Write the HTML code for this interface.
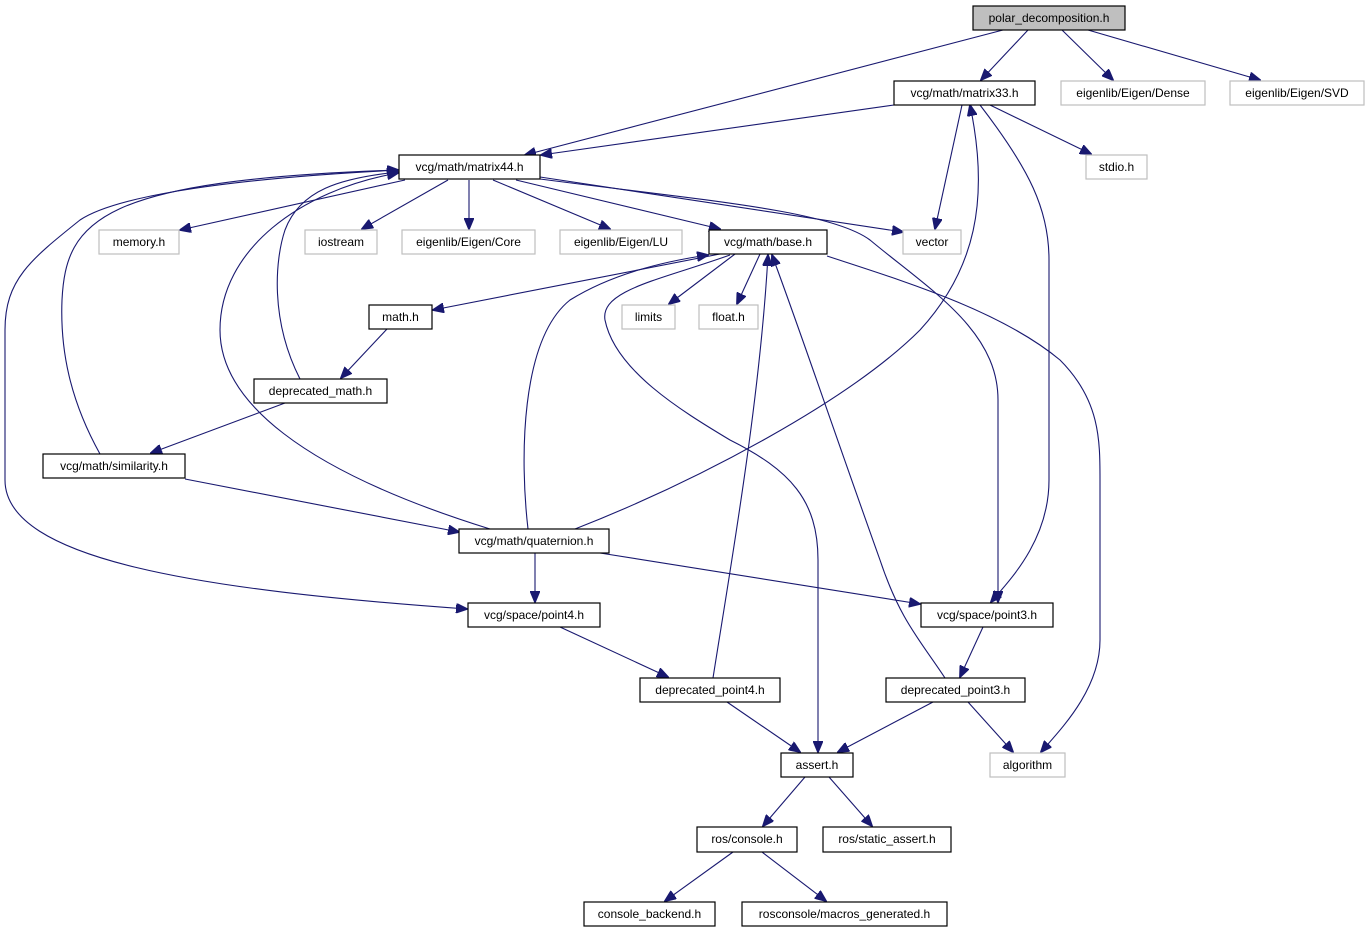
<!DOCTYPE html>
<html><head><meta charset="utf-8"><style>
html,body{margin:0;padding:0;background:#fff;}
svg{display:block;}
text{font-family:"Liberation Sans",sans-serif;font-size:12px;fill:#000;}
.e{fill:none;stroke:#191970;stroke-width:1.1;marker-end:url(#a);}
.n{fill:#fff;stroke:#000;stroke-width:1.2;}
.g{fill:#fff;stroke:#bfbfbf;stroke-width:1.2;}
</style></head><body>
<svg width="1369" height="933" viewBox="0 0 1369 933" xmlns="http://www.w3.org/2000/svg">
<defs><marker id="a" markerWidth="12" markerHeight="10" refX="11" refY="5" orient="auto" markerUnits="userSpaceOnUse"><path d="M0,0 L12,5 L0,10 z" fill="#191970" stroke="#191970"/></marker></defs>
<path class="e" d="M1003,30 L525,155"/>
<path class="e" d="M1028,30 L981,80"/>
<path class="e" d="M1062,30 L1113,80"/>
<path class="e" d="M1088,30 L1260,80"/>
<path class="e" d="M894,105 L541,155"/>
<path class="e" d="M962,105 L935,229"/>
<path class="e" d="M990,105 L1091,154"/>
<path class="e" d="M980,105 C1030,170 1049,210 1049,260 L1049,480 C1049,540 1010,580 991,602"/>
<path class="e" d="M405,180 L180,230"/>
<path class="e" d="M448,180 L362,229"/>
<path class="e" d="M469,180 L469,229"/>
<path class="e" d="M493,180 L610,229"/>
<path class="e" d="M516,180 L720,229"/>
<path class="e" d="M540,177 L903,232"/>
<path class="e" d="M540,179 C700,200 830,210 870,240 C930,290 998,330 998,400 L998,602"/>
<path class="e" d="M399,170 C200,180 110,200 80,220 C30,260 5,280 5,330 L5,480 C5,560 200,590 467,609"/>
<path class="e" d="M100,454 C70,400 60,350 62,300 C66,220 100,180 398,170"/>
<path class="e" d="M300,379 C270,320 275,260 285,230 C300,190 340,178 398,172"/>
<path class="e" d="M490,529 C300,470 220,400 220,330 C220,250 300,190 398,173"/>
<path class="e" d="M720,254 L433,310"/>
<path class="e" d="M735,254 L669,304"/>
<path class="e" d="M760,254 L737,304"/>
<path class="e" d="M827,256 C900,280 1000,310 1060,360 C1100,400 1100,440 1100,480 L1100,640 C1100,690 1060,730 1041,752"/>
<path class="e" d="M730,255 C660,280 600,290 605,320 C615,370 680,410 730,440 C790,470 818,500 818,560 L818,752"/>
<path class="e" d="M387,329 L341,378"/>
<path class="e" d="M285,403 L151,453"/>
<path class="e" d="M185,479 L459,532"/>
<path class="e" d="M528,529 C520,460 520,340 570,300 C610,275 660,262 708,255"/>
<path class="e" d="M575,529 C700,480 850,400 920,330 C975,270 990,200 970,105"/>
<path class="e" d="M535,553 L535,602"/>
<path class="e" d="M600,553 L920,604"/>
<path class="e" d="M560,627 L668,677"/>
<path class="e" d="M713,678 C730,570 760,400 768,255"/>
<path class="e" d="M727,702 L800,752"/>
<path class="e" d="M983,627 L960,677"/>
<path class="e" d="M945,678 C920,640 900,620 880,560 C830,420 800,330 772,255"/>
<path class="e" d="M933,702 L838,752"/>
<path class="e" d="M968,702 L1013,752"/>
<path class="e" d="M805,777 L763,826"/>
<path class="e" d="M829,777 L872,826"/>
<path class="e" d="M733,852 L665,901"/>
<path class="e" d="M762,852 L826,901"/>
<rect x="973" y="6" width="152" height="24" fill="#bfbfbf" stroke="#000" stroke-width="1.2"/><text x="1049" y="22" text-anchor="middle">polar_decomposition.h</text>
<rect class="n" x="894" y="81" width="141" height="24"/><text x="964.5" y="97" text-anchor="middle">vcg/math/matrix33.h</text>
<rect class="g" x="1061" y="81" width="144" height="24"/><text x="1133" y="97" text-anchor="middle">eigenlib/Eigen/Dense</text>
<rect class="g" x="1230" y="81" width="134" height="24"/><text x="1297" y="97" text-anchor="middle">eigenlib/Eigen/SVD</text>
<rect class="n" x="399" y="155" width="141" height="24"/><text x="469.5" y="171" text-anchor="middle">vcg/math/matrix44.h</text>
<rect class="g" x="1086" y="155" width="61" height="24"/><text x="1116.5" y="171" text-anchor="middle">stdio.h</text>
<rect class="g" x="99" y="230" width="80" height="24"/><text x="139" y="246" text-anchor="middle">memory.h</text>
<rect class="g" x="305" y="230" width="72" height="24"/><text x="341" y="246" text-anchor="middle">iostream</text>
<rect class="g" x="402" y="230" width="133" height="24"/><text x="468.5" y="246" text-anchor="middle">eigenlib/Eigen/Core</text>
<rect class="g" x="560" y="230" width="122" height="24"/><text x="621" y="246" text-anchor="middle">eigenlib/Eigen/LU</text>
<rect class="n" x="709" y="230" width="118" height="24"/><text x="768" y="246" text-anchor="middle">vcg/math/base.h</text>
<rect class="g" x="903" y="230" width="58" height="24"/><text x="932" y="246" text-anchor="middle">vector</text>
<rect class="n" x="369" y="305" width="63" height="24"/><text x="400.5" y="321" text-anchor="middle">math.h</text>
<rect class="g" x="622" y="305" width="53" height="24"/><text x="648.5" y="321" text-anchor="middle">limits</text>
<rect class="g" x="699" y="305" width="59" height="24"/><text x="728.5" y="321" text-anchor="middle">float.h</text>
<rect class="n" x="254" y="379" width="133" height="24"/><text x="320.5" y="395" text-anchor="middle">deprecated_math.h</text>
<rect class="n" x="43" y="454" width="142" height="24"/><text x="114" y="470" text-anchor="middle">vcg/math/similarity.h</text>
<rect class="n" x="459" y="529" width="150" height="24"/><text x="534" y="545" text-anchor="middle">vcg/math/quaternion.h</text>
<rect class="n" x="468" y="603" width="132" height="24"/><text x="534" y="619" text-anchor="middle">vcg/space/point4.h</text>
<rect class="n" x="921" y="603" width="132" height="24"/><text x="987" y="619" text-anchor="middle">vcg/space/point3.h</text>
<rect class="n" x="640" y="678" width="140" height="24"/><text x="710" y="694" text-anchor="middle">deprecated_point4.h</text>
<rect class="n" x="886" y="678" width="139" height="24"/><text x="955.5" y="694" text-anchor="middle">deprecated_point3.h</text>
<rect class="n" x="781" y="753" width="72" height="24"/><text x="817" y="769" text-anchor="middle">assert.h</text>
<rect class="g" x="990" y="753" width="75" height="24"/><text x="1027.5" y="769" text-anchor="middle">algorithm</text>
<rect class="n" x="697" y="827" width="100" height="25"/><text x="747" y="843" text-anchor="middle">ros/console.h</text>
<rect class="n" x="823" y="827" width="128" height="25"/><text x="887" y="843" text-anchor="middle">ros/static_assert.h</text>
<rect class="n" x="584" y="902" width="131" height="24"/><text x="649.5" y="918" text-anchor="middle">console_backend.h</text>
<rect class="n" x="742" y="902" width="205" height="24"/><text x="844.5" y="918" text-anchor="middle">rosconsole/macros_generated.h</text>
</svg>
</body></html>
